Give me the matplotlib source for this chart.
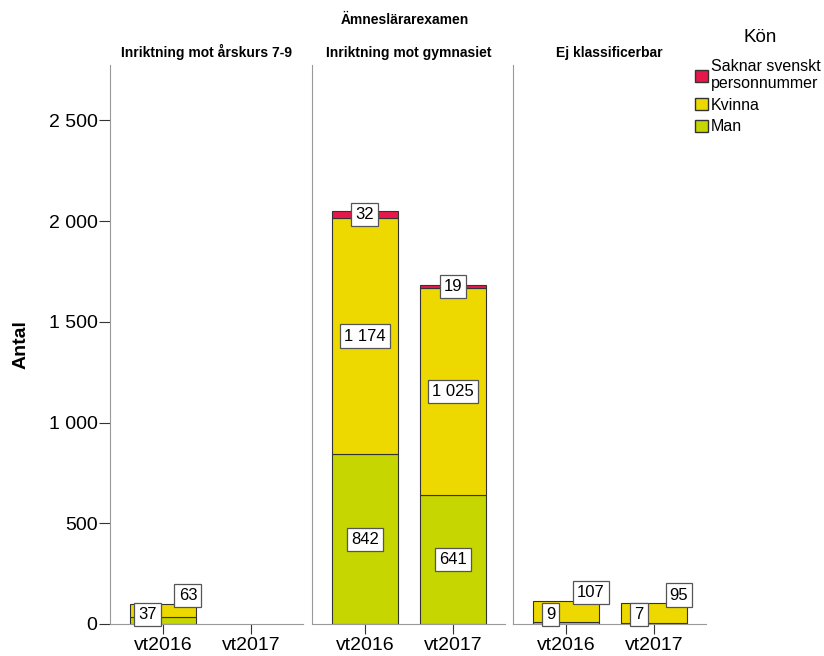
import numpy as np
import matplotlib.pyplot as plt
from matplotlib.patches import Patch

# data
panels = ["Inriktning mot årskurs 7-9", "Inriktning mot gymnasiet", "Ej klassificerbar"]
terms = ["vt2016", "vt2017"]
man = [[37, 0], [842, 641], [9, 7]]
kvinna = [[63, 0], [1174, 1025], [107, 95]]
saknar = [[0, 0], [32, 19], [0, 0]]
yticks = [0, 500, 1000, 1500, 2000, 2500]

c_man = "#C5D600"
c_kv = "#EDD900"
c_sak = "#E8174A"


def fmt(v):
    return "{:,}".format(v).replace(",", " ")


fig = plt.figure(figsize=(8.24, 6.56), dpi=100)
plt.rcParams['font.family'] = ['Liberation Sans', 'DejaVu Sans']
narrow = ['Liberation Sans Narrow', 'Liberation Sans', 'DejaVu Sans']

lefts = [110 / 824, 312 / 824, 513 / 824]
w = 193 / 824
bottom = 32 / 656
h = 559 / 656

box = dict(boxstyle="square,pad=0.25", fc="white", ec="#555555", lw=0.9)

for i, name in enumerate(panels):
    ax = fig.add_axes([lefts[i], bottom, w, h])
    x = np.arange(len(terms))
    m = np.array(man[i])
    k = np.array(kvinna[i])
    s = np.array(saknar[i])
    for vals, base, col in [(m, 0 * m, c_man), (k, m, c_kv), (s, m + k, c_sak)]:
        keep = vals > 0
        ax.bar(x[keep], vals[keep], 0.75, bottom=base[keep], color=col,
               edgecolor="#333333", lw=0.8)
    for j in range(len(terms)):
        tot = m[j] + k[j] + s[j]
        if tot == 0:
            continue
        if tot < 300:
            # overlapping labels are pushed apart like in the original
            ax.annotate(fmt(m[j]), (x[j], 0), xytext=(-11, 7), textcoords="offset points",
                        ha="center", va="center", fontsize=12, bbox=box)
            ax.annotate(fmt(k[j]), (x[j], m[j] + k[j]), xytext=(18, 6), textcoords="offset points",
                        ha="center", va="center", fontsize=12, bbox=box)
        else:
            ax.text(x[j], m[j] / 2, fmt(m[j]), ha="center", va="center", fontsize=12, bbox=box)
            ax.text(x[j], m[j] + k[j] / 2, fmt(k[j]), ha="center", va="center", fontsize=12, bbox=box)
            if s[j] > 0:
                ax.text(x[j], m[j] + k[j] + s[j] / 2, fmt(s[j]), ha="center", va="center",
                        fontsize=12, bbox=box)
    ax.set_xlim(-0.6, 1.59)
    ax.set_ylim(0, 2775)
    ax.set_xticks(x)
    ax.set_xticklabels(terms, fontsize=14)
    ax.tick_params(axis="x", length=7, color="#333333", pad=2)
    for sp in ["top", "right"]:
        ax.spines[sp].set_visible(False)
    ax.spines["left"].set_color("#999999")
    ax.spines["bottom"].set_color("#999999")
    ax.set_title(name, fontsize=10, fontweight="bold", family=narrow, pad=6)
    if i == 0:
        ax.set_yticks(yticks)
        ax.set_yticklabels([fmt(v) for v in yticks], fontsize=14)
        ax.tick_params(axis="y", length=8, color="#333333", pad=1)
        ax.set_ylabel("Antal", fontsize=14, fontweight="bold", labelpad=14)
    else:
        ax.set_yticks([])

fig.text(405 / 824, 1 - 20 / 656, "Ämneslärarexamen", ha="center", va="center",
         fontsize=10, fontweight="bold", family=narrow)

fig.text(760 / 824, 1 - 38 / 656, "Kön", ha="center", va="center", fontsize=13.5)
handles = [Patch(fc=c_sak, ec="#333333", label="Saknar svenskt\npersonnummer"),
           Patch(fc=c_kv, ec="#333333", label="Kvinna"),
           Patch(fc=c_man, ec="#333333", label="Man")]
fig.legend(handles=handles, loc="upper left", bbox_to_anchor=(695 / 824, 1 - 59 / 656),
           frameon=False, fontsize=11.5, handlelength=0.8, handleheight=0.8,
           handletextpad=0.2, labelspacing=0.4, borderaxespad=0, borderpad=0)

fig.savefig("out.png", dpi=100)
